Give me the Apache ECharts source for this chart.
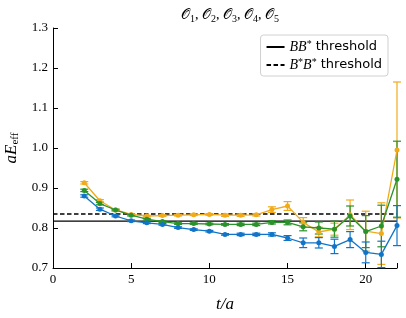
<!DOCTYPE html>
<html><head><meta charset="utf-8">
<script src="https://cdn.jsdelivr.net/npm/echarts@6/dist/echarts.min.js"></script>
<style>html,body{margin:0;padding:0;background:#fff}#c{width:406px;height:318px}</style>
</head><body><div id="c"></div>
<script>
const tValues = [2,3,4,5,6,7,8,9,10,11,12,13,14,15,16,17,18,19,20,21,22];
const orangeValues = [0.913,0.868,0.845,0.834,0.830,0.831,0.832,0.833,0.834,0.832,0.832,0.833,0.846,0.855,0.814,0.790,0.797,0.833,0.792,0.786,0.995];
const orangeErrors = [0.003,0.003,0.002,0.002,0.002,0.002,0.002,0.002,0.002,0.003,0.003,0.003,0.007,0.011,0.012,0.012,0.015,0.037,0.050,0.077,0.170];
const greenValues = [0.894,0.861,0.845,0.832,0.822,0.816,0.811,0.811,0.810,0.809,0.809,0.809,0.814,0.814,0.803,0.800,0.797,0.830,0.791,0.805,0.922];
const greenErrors = [0.003,0.003,0.002,0.002,0.002,0.002,0.002,0.002,0.002,0.002,0.003,0.003,0.004,0.006,0.010,0.015,0.020,0.025,0.040,0.052,0.095];
const blueValues = [0.880,0.847,0.830,0.818,0.813,0.809,0.801,0.796,0.792,0.784,0.784,0.784,0.784,0.775,0.763,0.763,0.754,0.771,0.739,0.734,0.806];
const blueErrors = [0.003,0.003,0.002,0.002,0.002,0.002,0.002,0.002,0.002,0.002,0.003,0.003,0.004,0.006,0.012,0.013,0.018,0.020,0.026,0.033,0.050];
const bbThreshold = 0.817;
const bsbsThreshold = 0.835;
const xTicks = [0,5,10,15,20];
const yTicks = ['0.7','0.8','0.9','1.0','1.1','1.2','1.3'];

const serif = '"Liberation Serif","DejaVu Serif",serif';
const colors = {orange:'#f0aa1a', green:'#2a922a', blue:'#1075c8'};

function pts(vals){ return tValues.map((t,i)=>[t, vals[i]]); }
function errData(vals, errs){ return tValues.map((t,i)=>[t, vals[i]-errs[i], vals[i]+errs[i]]); }
function errSeries(vals, errs, color){
  return {
    type:'custom', silent:true, z:3,
    data: errData(vals, errs),
    encode:{x:0,y:[1,2]},
    renderItem:function(params, api){
      const x = api.value(0);
      const lo = api.coord([x, api.value(1)]);
      const hi = api.coord([x, api.value(2)]);
      const w = 4;
      const st = {stroke:color, lineWidth:1.2};
      return {type:'group', children:[
        {type:'line', shape:{x1:lo[0],y1:lo[1],x2:hi[0],y2:hi[1]}, style:st},
        {type:'line', shape:{x1:lo[0]-w,y1:lo[1],x2:lo[0]+w,y2:lo[1]}, style:st},
        {type:'line', shape:{x1:hi[0]-w,y1:hi[1],x2:hi[0]+w,y2:hi[1]}, style:st}
      ]};
    }
  };
}
function lineSeries(vals, color, z){
  return {type:'line', data:pts(vals), symbol:'circle', symbolSize:5, z:z,
    lineStyle:{color:color, width:1.3}, itemStyle:{color:color}, silent:true};
}

const chart = echarts.init(document.getElementById('c'), null, {renderer:'canvas'});
chart.setOption({
  animation:false,
  backgroundColor:'#fff',
  title:{
    text:'{c|𝒪}{s|1}{c|, 𝒪}{s|2}{c|, 𝒪}{s|3}{c|, 𝒪}{s|4}{c|, 𝒪}{s|5}',
    left:225, top:2, textAlign:'center',
    textStyle:{fontWeight:'normal', rich:{
      c:{fontFamily:serif, fontSize:14, color:'#000', fontWeight:'normal'},
      s:{fontFamily:serif, fontSize:10, color:'#000', fontWeight:'normal', verticalAlign:'bottom', padding:[7,0,0,0]}
    }}
  },
  grid:{left:53, right:9, top:28, bottom:50, containLabel:false, outerBoundsMode:'none'},
  legend:{
    right:18, top:35, orient:'vertical', align:'left',
    backgroundColor:'rgba(255,255,255,0.9)', borderColor:'#d0d0d0', borderWidth:1, borderRadius:3,
    padding:[4,6,4,5], itemGap:3, itemWidth:18, itemHeight:10,
    itemStyle:{opacity:0},
    data:['BB','BsBs'],
    formatter:function(n){
      return n==='BB' ? '{m|BB}{s|*}{t| threshold}' : '{m|B}{s|*}{m|B}{s|*}{t| threshold}';
    },
    textStyle:{rich:{
      m:{fontFamily:serif, fontStyle:'italic', fontSize:14, color:'#000'},
      s:{fontFamily:serif, fontSize:10, color:'#000', verticalAlign:'top', padding:[0,0,6,0]},
      t:{fontFamily:'"DejaVu Sans",sans-serif', fontSize:13, color:'#000'}
    }}
  },
  xAxis:{
    type:'value', min:0, max:22, interval:5,
    name:'t/a', nameLocation:'middle', nameGap:28,
    nameTextStyle:{fontFamily:serif, fontStyle:'italic', fontSize:17, color:'#000'},
    axisLine:{lineStyle:{color:'#000', width:1}},
    axisTick:{inside:true, length:5, lineStyle:{color:'#000'}},
    axisLabel:{fontFamily:serif, fontSize:13, color:'#000', margin:5,
      formatter:function(v){ return xTicks.indexOf(v)>=0 ? String(v) : ''; }},
    splitLine:{show:false}
  },
  yAxis:{
    type:'value', min:0.7, max:1.3, interval:0.1,
    name:'{a|aE}{b|eff}', nameLocation:'middle', nameGap:31, nameRotate:90,
    nameTextStyle:{rich:{
      a:{fontFamily:serif, fontStyle:'italic', fontSize:17, color:'#000'},
      b:{fontFamily:serif, fontSize:11, color:'#000', verticalAlign:'bottom', padding:[8,0,0,0]}
    }},
    axisLine:{show:true, lineStyle:{color:'#000', width:1}},
    axisTick:{show:true, inside:true, length:5, lineStyle:{color:'#000'}},
    axisLabel:{fontFamily:serif, fontSize:13, color:'#000', margin:5,
      formatter:function(v){ const s=v.toFixed(1); return yTicks.indexOf(s)>=0 ? s : ''; }},
    splitLine:{show:false}
  },
  series:[
    {name:'BB', type:'line', symbol:'none', z:1, silent:true,
      data:[[0,bbThreshold],[22,bbThreshold]], lineStyle:{color:'#000', width:1.3}, itemStyle:{color:'#000'}},
    {name:'BsBs', type:'line', symbol:'none', z:1, silent:true,
      data:[[0,bsbsThreshold],[22,bsbsThreshold]], lineStyle:{color:'#000', width:1.3, type:[4.5,2.5]}, itemStyle:{color:'#000'}},
    errSeries(orangeValues, orangeErrors, colors.orange),
    lineSeries(orangeValues, colors.orange, 4),
    errSeries(greenValues, greenErrors, colors.green),
    lineSeries(greenValues, colors.green, 5),
    errSeries(blueValues, blueErrors, colors.blue),
    lineSeries(blueValues, colors.blue, 6)
  ]
});
</script>
</body></html>
